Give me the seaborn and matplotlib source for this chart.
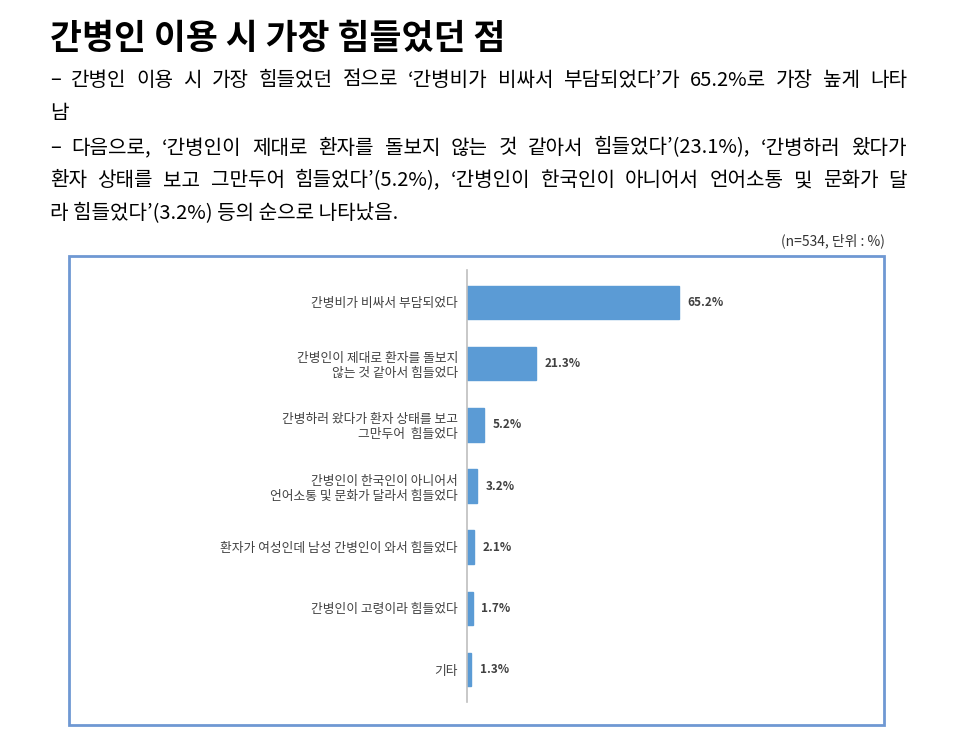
import matplotlib
matplotlib.use("Agg")
import matplotlib.pyplot as plt
import seaborn as sns
import pandas as pd
from matplotlib.patches import Rectangle

sns.set_theme(style="white")
plt.rcParams['font.family'] = ['Noto Sans CJK KR', 'DejaVu Sans']

categories = [
    "간병비가 비싸서 부담되었다",
    "간병인이 제대로 환자를 돌보지\n않는 것 같아서 힘들었다",
    "간병하러 왔다가 환자 상태를 보고\n그만두어  힘들었다",
    "간병인이 한국인이 아니어서\n언어소통 및 문화가 달라서 힘들었다",
    "환자가 여성인데 남성 간병인이 와서 힘들었다",
    "간병인이 고령이라 힘들었다",
    "기타",
]
values = [65.2, 21.3, 5.2, 3.2, 2.1, 1.7, 1.3]
value_labels = ["65.2%", "21.3%", "5.2%", "3.2%", "2.1%", "1.7%", "1.3%"]

title = "간병인 이용 시 가장 힘들었던 점"
body_lines = [
    ("– 간병인 이용 시 가장 힘들었던 점으로 ‘간병비가 비싸서 부담되었다’가 65.2%로 가장 높게 나타", True),
    ("남", False),
    ("– 다음으로, ‘간병인이 제대로 환자를 돌보지 않는 것 같아서 힘들었다’(23.1%), ‘간병하러 왔다가", True),
    ("환자 상태를 보고 그만두어 힘들었다’(5.2%), ‘간병인이 한국인이 아니어서 언어소통 및 문화가 달", True),
    ("라 힘들었다’(3.2%) 등의 순으로 나타났음.", False),
]
note = "(n=534, 단위 : %)"

W, H = 958, 756
fig = plt.figure(figsize=(W / 100, H / 100), dpi=100)

# chart frame
fig.add_artist(Rectangle((69 / W, 1 - 725 / H), (884 - 69) / W, (725 - 256) / H,
                         transform=fig.transFigure, fill=False,
                         edgecolor="#6f98d3", linewidth=2))

ax = fig.add_axes([467 / W, 1 - 702 / H, (870 - 467) / W, (702 - 270) / H])
df = pd.DataFrame({"cat": categories, "val": values})
sns.barplot(data=df, x="val", y="cat", ax=ax, color="#5b9bd5", width=0.55,
            saturation=1, edgecolor="#5b9bd5")
ax.set_xlim(0, (870 - 467) / 3.25)
ax.set_ylim(6.53, -0.53)
ax.set_xlabel("")
ax.set_ylabel("")
ax.set_xticks([])
for s in ["top", "right", "bottom"]:
    ax.spines[s].set_visible(False)
ax.spines["left"].set_color("#bfbfbf")
ax.spines["left"].set_linewidth(1.2)
ax.tick_params(axis="y", length=0, pad=6.5)
for lbl in ax.get_yticklabels():
    lbl.set_fontsize(9.2)
    lbl.set_color("#404040")
    lbl.set_horizontalalignment("right")
    lbl.set_multialignment("right")
    lbl.set_linespacing(1.2)
for i, (v, t) in enumerate(zip(values, value_labels)):
    ax.annotate(t, (v, i), xytext=(6, 0), textcoords="offset points",
                va="center", ha="left", fontsize=8.5, color="#404040",
                fontweight="bold")

fig.text(885 / W, 1 - 241 / H, note, ha="right", va="center", fontsize=10, color="#333333")

# title
fig.text(50 / W, 1 - 38 / H, title, ha="left", va="center", fontsize=25,
         fontweight="bold", color="black")

# body text, justified
fig.canvas.draw()
renderer = fig.canvas.get_renderer()
x0, x1 = 50, 907
ys = [80, 113, 148, 181, 214]
fs = 14.5
for (line, justify), y in zip(body_lines, ys):
    yf = 1 - y / H
    if not justify:
        fig.text(x0 / W, yf, line, ha="left", va="center", fontsize=fs, color="black")
        continue
    words = line.split(" ")
    arts = []
    widths = []
    for w in words:
        t = fig.text(0, yf, w, ha="left", va="center", fontsize=fs, color="black")
        bb = t.get_window_extent(renderer=renderer)
        arts.append(t)
        widths.append(bb.width)
    gap = ((x1 - x0) - sum(widths)) / (len(words) - 1)
    if gap < 3:
        scale = (x1 - x0 - 3 * (len(words) - 1)) / sum(widths)
        for t in arts:
            t.set_fontsize(fs * scale)
        widths = [wd * scale for wd in widths]
        gap = 3
    x = x0
    for t, wd in zip(arts, widths):
        t.set_x(x / W)
        x += wd + gap

fig.savefig("out.png", dpi=100, facecolor="white")
